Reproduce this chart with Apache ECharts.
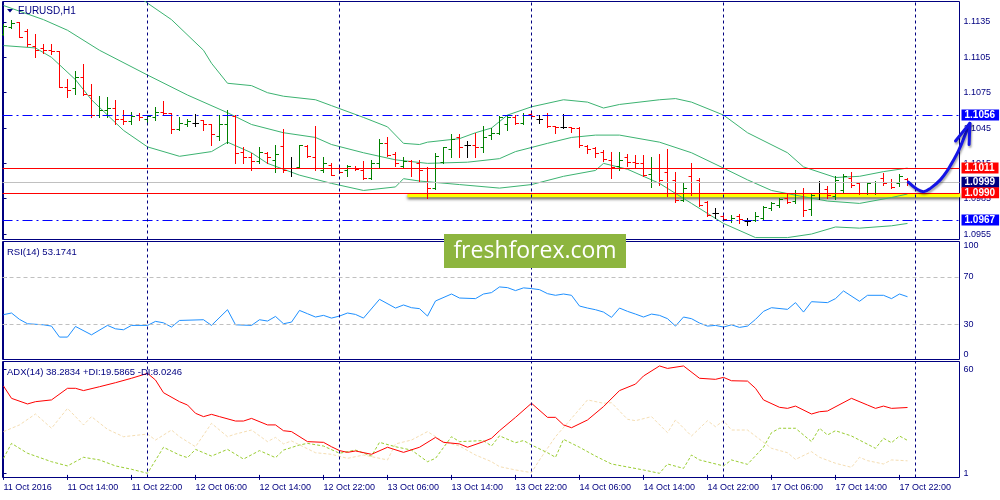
<!DOCTYPE html>
<html>
<head>
<meta charset="utf-8">
<script src="https://cdn.jsdelivr.net/npm/echarts@6/dist/echarts.min.js"></script>
<style>
  html, body { margin: 0; padding: 0; background: #fff; }
  #chart { width: 1000px; height: 500px; }
</style>
</head>
<body>
<div id="chart"></div>
<script>
// EURUSD H1 bars, 11 Oct 06:00 .. 17 Oct 23:00 (one entry per hour)
const barOpen = [1.1125,1.1131,1.1135,1.1127,1.1115,1.1113,1.1111,1.1110,1.1080,1.1079,1.1088,1.1073,1.1056,1.1060,1.1062,1.1053,1.1051,1.1056,1.1053,1.1054,
  1.1059,1.1058,1.1044,1.1048,1.1049,1.1052,1.1048,1.1038,1.1048,1.1055,1.1025,1.1020,1.1017,1.1024,1.1018,1.1030,1.1011,1.1012,1.1030,1.1020,
  1.1009,1.1014,1.1011,1.1009,1.1011,1.1009,1.1003,1.1015,1.1032,1.1023,1.1013,1.1017,1.1015,1.1011,1.0994,1.1016,1.1027,1.1037,1.1031,1.1031,
  1.1029,1.1039,1.1041,1.1048,1.1054,1.1049,1.1057,1.1053,1.1056,1.1047,1.1046,1.1046,1.1045,1.1030,1.1028,1.1025,1.1018,1.1013,1.1020,1.1016,
  1.1015,1.1006,1.1011,1.1008,1.1001,1.0984,1.1004,1.1001,1.0982,1.0973,1.0970,1.0967,1.0970,1.0966,1.0967,1.0969,1.0977,1.0980,1.0986,1.0983,
  1.0990,1.0976,1.0990,1.0993,1.0987,1.0992,1.1003,1.0998,1.0990,1.0990,1.1003,1.0999,1.0998,1.1002];
const barHigh = [1.1133,1.1137,1.1135,1.1129,1.1125,1.1116,1.1116,1.1110,1.1087,1.1093,1.1099,1.1082,1.1072,1.1071,1.1069,1.1060,1.1059,1.1058,1.1056,1.1063,
  1.1068,1.1058,1.1054,1.1053,1.1057,1.1052,1.1048,1.1056,1.1060,1.1056,1.1029,1.1024,1.1029,1.1025,1.1031,1.1044,1.1020,1.1031,1.1031,1.1047,
  1.1020,1.1015,1.1014,1.1014,1.1013,1.1017,1.1018,1.1036,1.1037,1.1025,1.1020,1.1018,1.1018,1.1012,1.1024,1.1029,1.1040,1.1040,1.1034,1.1041,
  1.1047,1.1045,1.1055,1.1056,1.1056,1.1058,1.1058,1.1056,1.1058,1.1047,1.1057,1.1046,1.1046,1.1031,1.1029,1.1026,1.1025,1.1025,1.1023,1.1022,
  1.1022,1.1020,1.1023,1.1027,1.1008,1.0999,1.1015,1.1003,1.0983,1.0977,1.0971,1.0971,1.0972,1.0969,1.0974,1.0979,1.0982,1.0986,1.0990,1.0992,
  1.0994,1.0990,1.1000,1.0996,1.1004,1.1006,1.1008,1.0999,1.0999,1.1000,1.1007,1.1002,1.1006,1.1003];
const barLow = [1.1124,1.1130,1.1122,1.1115,1.1105,1.1109,1.1108,1.1080,1.1071,1.1074,1.1073,1.1054,1.1054,1.1054,1.1048,1.1048,1.1048,1.1052,1.1048,1.1052,
  1.1056,1.1041,1.1043,1.1047,1.1047,1.1043,1.1031,1.1035,1.1032,1.1015,1.1015,1.1009,1.1015,1.1015,1.1008,1.1008,1.1004,1.1011,1.1020,1.1009,
  1.1008,1.1005,1.1007,1.1004,1.1009,1.1002,1.1002,1.1012,1.1021,1.1013,1.1012,1.1004,1.0999,1.0986,1.0993,1.1015,1.1020,1.1020,1.1020,1.1020,
  1.1025,1.1036,1.1040,1.1043,1.1048,1.1048,1.1054,1.1049,1.1046,1.1041,1.1045,1.1042,1.1029,1.1024,1.1020,1.1017,1.1003,1.1009,1.1013,1.1011,
  1.1004,1.0995,1.0997,1.0987,1.0982,1.0983,1.0988,1.0979,1.0970,1.0969,1.0967,1.0965,1.0964,1.0963,1.0966,1.0968,1.0975,1.0978,1.0981,1.0981,
  1.0970,1.0971,1.0985,1.0986,1.0985,1.0990,1.0995,1.0989,1.0989,1.0989,1.0997,1.0994,1.0996,1.0997];
const barClose = [1.1132,1.1134,1.1122,1.1116,1.1111,1.1111,1.1110,1.1080,1.1077,1.1088,1.1074,1.1056,1.1060,1.1062,1.1053,1.1051,1.1055,1.1054,1.1055,1.1059,
  1.1058,1.1044,1.1049,1.1051,1.1049,1.1048,1.1040,1.1048,1.1056,1.1024,1.1020,1.1017,1.1025,1.1020,1.1023,1.1009,1.1011,1.1031,1.1021,1.1011,
  1.1015,1.1005,1.1008,1.1013,1.1010,1.1003,1.1015,1.1032,1.1022,1.1015,1.1017,1.1011,1.1009,1.0994,1.1021,1.1029,1.1036,1.1029,1.1031,1.1029,
  1.1037,1.1041,1.1054,1.1054,1.1049,1.1056,1.1055,1.1053,1.1047,1.1046,1.1046,1.1045,1.1031,1.1027,1.1024,1.1019,1.1012,1.1018,1.1016,1.1015,
  1.1005,1.1011,1.1001,1.0990,1.0984,1.0994,1.0990,1.0980,1.0971,1.0973,1.0968,1.0969,1.0968,1.0966,1.0970,1.0978,1.0981,1.0985,1.0982,1.0990,
  1.0975,1.0988,1.0990,1.0988,1.1001,1.1004,1.0997,1.0990,1.0998,1.0999,1.0998,1.0995,1.1004,1.0999];

// Bollinger bands as [bar index, price]
const upperBand = [[16,1.1161],[18,1.1151],[21,1.1137],[25,1.1111],[26,1.1100],[28,1.1083],[31,1.1081],[33,1.1075],[35,1.1072],[39,1.1069],
  [41,1.1064],[45,1.1054],[48,1.1046],[50,1.1032],[52,1.1031],[53,1.1033],[57,1.1036],[59,1.1041],[61,1.1045],[63,1.1056],[66,1.1063],
  [70,1.1069],[73,1.1067],[75,1.1062],[77,1.1065],[82,1.1069],[84,1.1070],[86,1.1067],[90,1.1056],[93,1.1041],[98,1.1024],[100,1.1012],
  [104,1.1003],[107,1.1004],[110,1.1008],[113,1.1011]];
const middleBand = [[0,1.1149],[5,1.1137],[8,1.1128],[12,1.1111],[18,1.1090],[23,1.1073],[28,1.1058],[31,1.1048],[35,1.1041],[39,1.1037],
  [41,1.1031],[45,1.1024],[49,1.1018],[53,1.1015],[58,1.1016],[62,1.1019],[64,1.1025],[68,1.1032],[71,1.1037],[74,1.1039],[77,1.1039],
  [82,1.1033],[86,1.1024],[90,1.1011],[93,1.1001],[96,1.0992],[99,1.0988],[103,1.0983],[107,1.0981],[111,1.0986],[113,1.0989]];
const lowerBand = [[0,1.1115],[4,1.1113],[6,1.1105],[9,1.1086],[11,1.1069],[15,1.1043],[18,1.1029],[22,1.1021],[26,1.1025],[28,1.1033],
  [31,1.1024],[33,1.1015],[37,1.1005],[41,1.0998],[45,1.0992],[49,1.0995],[50,1.1002],[52,1.1000],[57,1.0997],[62,1.0994],[66,1.0997],
  [70,1.1004],[74,1.1009],[75,1.1015],[78,1.1010],[82,1.0998],[86,1.0981],[90,1.0964],[94,1.0952],[98,1.0952],[101,1.0955],[104,1.0961],
  [107,1.0960],[111,1.0962],[113,1.0964]];

// RSI(14)
const rsiValues = [[0,38.0],[1,39.4],[2,34.0],[3,30.3],[5,29.4],[6,28.3],[7,19.0],[8,19.0],[9,28.0],[11,20.9],[13,28.9],[14,26.0],[15,25.2],
  [16,28.9],[18,28.9],[19,32.3],[20,31.1],[21,27.5],[22,33.1],[25,33.7],[26,28.9],[28,42.2],[29,29.4],[31,28.9],[32,33.7],[33,32.6],[34,36.5],
  [35,30.3],[36,31.7],[37,41.6],[38,38.8],[39,36.0],[40,37.4],[41,35.1],[42,36.8],[43,39.4],[44,38.2],[45,35.1],[47,51.0],[49,43.6],[50,46.2],
  [51,43.9],[52,43.1],[53,36.8],[54,49.6],[56,55.5],[57,52.1],[59,51.6],[60,55.5],[61,56.7],[62,61.5],[63,60.9],[64,58.4],[65,60.7],[66,60.1],
  [67,59.2],[68,55.8],[69,54.4],[70,55.5],[71,54.4],[72,45.3],[73,43.6],[74,42.2],[75,40.2],[76,35.7],[77,43.6],[78,40.8],[79,38.5],[80,36.0],
  [81,38.5],[82,37.4],[83,34.6],[84,28.3],[85,36.0],[86,34.6],[87,30.9],[88,28.3],[89,28.9],[90,27.5],[91,29.4],[92,27.2],[93,28.3],[94,34.0],
  [95,40.8],[96,43.9],[98,42.5],[99,48.2],[100,40.2],[101,49.0],[103,48.2],[104,51.6],[105,58.1],[107,49.3],[108,54.4],[110,54.4],[111,51.6],
  [112,55.5],[113,53.2]];

// ADX(14) with +DI / -DI
const adxValues = [[0,50.5],[1,43.5],[3,40.3],[4,41.6],[6,42.6],[8,49.2],[9,49.2],[10,47.9],[12,50.1],[14,52.4],[16,54.9],[18,57.7],[19,53.9],
  [20,46.7],[22,41.6],[23,39.7],[24,35.0],[25,33.1],[26,34.4],[27,33.1],[29,30.6],[30,30.6],[31,32.1],[33,28.4],[34,28.4],[35,25.1],[36,24.6],
  [38,18.9],[40,18.5],[41,16.0],[42,13.8],[43,12.8],[44,13.6],[46,11.7],[48,15.7],[50,12.8],[52,15.7],[54,21.3],[55,18.5],[57,17.6],[58,15.7],
  [60,18.9],[61,20.8],[62,25.1],[64,32.7],[66,40.7],[68,32.7],[69,32.7],[70,28.4],[71,26.8],[73,31.2],[75,38.8],[77,47.9],[79,51.6],[80,56.2],
  [82,61.9],[83,60.5],[85,61.9],[87,54.9],[89,54.3],[90,55.4],[91,53.5],[93,53.3],[94,49.2],[95,42.6],[97,38.4],[98,37.8],[99,39.1],[101,34.6],
  [102,35.9],[103,36.3],[106,43.5],[108,39.7],[109,37.8],[110,39.1],[111,37.8],[113,38.3]];
const plusDI = [[0,9.4],[1,17.9],[3,12.3],[6,7.5],[8,5.1],[10,10.0],[12,8.5],[14,5.1],[16,3.2],[18,0.9],[20,15.7],[22,11.3],[23,9.8],[24,14.5],
  [26,10.7],[28,14.5],[30,9.0],[32,13.8],[34,9.8],[35,14.1],[37,17.0],[38,17.9],[40,16.4],[42,12.3],[44,14.1],[46,10.7],[47,18.5],[49,16.0],
  [51,14.1],[53,7.5],[54,9.4],[56,21.7],[57,18.9],[60,19.5],[61,16.4],[62,22.2],[64,18.3],[65,19.5],[66,17.0],[68,12.6],[69,10.0],[70,20.2],
  [72,15.7],[74,10.7],[76,6.2],[80,2.8],[82,0.9],[83,6.2],[85,3.7],[86,11.3],[87,8.5],[90,5.1],[91,8.5],[93,6.0],[95,15.7],[96,24.0],[97,26.5],
  [99,26.5],[101,18.9],[102,26.5],[103,22.7],[104,25.1],[106,22.1],[109,15.1],[110,20.8],[111,18.3],[112,22.1],[113,19.6]];
const minusDI = [[0,24.6],[2,28.4],[4,34.6],[6,26.5],[8,37.8],[10,28.4],[11,33.1],[13,25.9],[15,21.7],[18,23.2],[19,19.8],[21,25.5],[22,21.7],
  [24,16.0],[26,29.3],[28,21.7],[29,23.2],[31,25.5],[33,18.9],[34,21.3],[35,17.6],[36,19.3],[39,12.6],[41,11.7],[43,9.4],[45,11.3],[48,8.5],
  [49,17.6],[51,19.8],[53,24.6],[55,18.9],[57,16.4],[59,11.3],[61,7.5],[62,4.7],[64,2.8],[66,1.3],[67,8.5],[69,21.7],[71,32.1],[73,42.6],
  [75,40.7],[76,41.0],[78,31.6],[79,30.8],[81,33.1],[83,24.0],[84,31.2],[86,22.1],[88,30.8],[89,27.4],[90,30.8],[91,25.5],[93,25.5],[96,15.1],
  [98,12.6],[99,8.8],[101,13.2],[102,10.0],[104,6.6],[106,4.3],[107,10.0],[108,8.1],[110,6.2],[111,8.5],[113,8.0]];

// time axis labels every 8 bars, day separators
const timeLabelIdx = [0,8,16,24,32,40,48,56,64,72,80,88,96,104,112];
const timeLabels = ['11 Oct 2016','11 Oct 14:00','11 Oct 22:00','12 Oct 06:00','12 Oct 14:00','12 Oct 22:00','13 Oct 06:00',
  '13 Oct 14:00','13 Oct 22:00','14 Oct 06:00','14 Oct 14:00','14 Oct 22:00','17 Oct 06:00','17 Oct 14:00','17 Oct 22:00'];
const dayBreaks = [18, 42, 66, 90, 114];

// price scale ticks and drawn levels
const priceTicks = [1.0955, 1.0985, 1.1015, 1.1045, 1.1075, 1.1105, 1.1135];
const levelPrices = [1.1056, 1.1011, 1.0999, 1.0990, 1.0967];
const levelColors = ['#0000ff', '#ff0000', '#c0c0c0', '#ff0000', '#0000ff'];
const levelLabelBg = ['#0000ff', '#ff0000', '#000080', '#ff0000', '#0000ff'];
const supportLine = [[50.5, 1.0988], [119.6, 1.0988]];
const arrowPath = [[113.1,1.0999],[114.2,1.0993],[115.0,1.0991],[115.9,1.0994],[117.1,1.1001],[118.0,1.1009],
  [118.6,1.1016],[119.4,1.1026],[120.25,1.1040],[120.8,1.1049]];
const arrowHead = [[119.0,1.1034],[120.8,1.1049],[120.7,1.1031]];
const rsiTicks = [0, 30, 70, 100];
const adxTicks = [1, 60];

const NAVY = '#000080';
const FONT = '"Liberation Sans", Arial, sans-serif';
const X_MIN = -0.125, X_MAX = 119.5;        // 8 px per bar over the 957 px panel
const PRICE_MIN = 1.095037, PRICE_MAX = 1.115241;

const chart = echarts.init(document.getElementById('chart'));

function xAxisFor(gridIndex, showLabels, max) {
  return {
    type: 'value', gridIndex: gridIndex, min: X_MIN, max: max || X_MAX,
    axisLine: { show: false },
    splitLine: { show: false },
    axisTick: showLabels
      ? { show: true, customValues: timeLabelIdx, length: 5, lineStyle: { color: NAVY } }
      : { show: false },
    axisLabel: showLabels
      ? { show: true, customValues: timeLabelIdx, formatter: v => timeLabels[timeLabelIdx.indexOf(v)],
          align: 'left', color: NAVY, fontSize: 9, fontFamily: FONT, margin: 6 }
      : { show: false }
  };
}

function yAxisFor(gridIndex, min, max, ticks, fmt, extraLabel) {
  return {
    type: 'value', gridIndex: gridIndex, position: 'right', min: min, max: max,
    axisLine: { show: true, lineStyle: { color: NAVY } },
    splitLine: { show: false },
    axisTick: { show: true, customValues: ticks, length: 3, lineStyle: { color: NAVY } },
    axisLabel: Object.assign({ customValues: ticks, formatter: fmt, color: NAVY, fontSize: 9, fontFamily: FONT, margin: 4 }, extraLabel || {})
  };
}

function dayLineData() {
  return dayBreaks.map(i => ({ xAxis: i }));
}
const dayLineStyle = { color: NAVY, type: [3, 3], width: 1 };

function renderBar(params, api) {
  const i = api.value(0);
  const o = api.value(1), h = api.value(2), l = api.value(3), c = api.value(4);
  const pH = api.coord([i, h]);
  const pL = api.coord([i, l]);
  const pO = api.coord([i, o]);
  const pC = api.coord([i, c]);
  const x = Math.floor(pH[0]) + 0.5;
  const color = c > o ? '#008000' : (c < o ? '#ff0000' : '#000000');
  const style = { stroke: color, lineWidth: 1 };
  const yo = Math.round(pO[1]) + 0.5;
  const yc = Math.round(pC[1]) + 0.5;
  return {
    type: 'group',
    children: [
      { type: 'line', shape: { x1: x, y1: Math.round(pH[1]), x2: x, y2: Math.round(pL[1]) + 1 }, style: style },
      { type: 'line', shape: { x1: x - 3, y1: yo, x2: x, y2: yo }, style: style },
      { type: 'line', shape: { x1: x, y1: yc, x2: x + 3.5, y2: yc }, style: style }
    ]
  };
}

const levelMarks = levelPrices.map((p, k) => ({
  yAxis: p,
  lineStyle: {
    color: levelColors[k], width: 1,
    type: levelColors[k] === '#0000ff' ? [10, 4, 2, 4] : 'solid'
  },
  label: { backgroundColor: levelLabelBg[k] }
}));

const bandStyle = { color: '#3cb371', width: 1 };
const arrowStyle = { color: '#1414e6', width: 3, cap: 'round', join: 'round',
  shadowColor: 'rgba(0,0,0,0.35)', shadowBlur: 2, shadowOffsetX: 1, shadowOffsetY: 2 };

const option = {
  animation: false,
  backgroundColor: '#ffffff',
  grid: [
    { left: 2.5, top: 1.5, width: 957, height: 238, show: true, borderColor: NAVY, borderWidth: 1, outerBoundsMode: 'none' },
    { left: 2.5, top: 241.5, width: 957, height: 118, show: true, borderColor: NAVY, borderWidth: 1, outerBoundsMode: 'none' },
    { left: 2.5, top: 361.5, width: 957, height: 116, show: true, borderColor: NAVY, borderWidth: 1, outerBoundsMode: 'none' },
    // overlay with the same scale, reaching over the price labels for the hand-drawn arrow
    { left: 2.5, top: 1.5, width: 997, height: 238, show: false, outerBoundsMode: 'none' }
  ],
  xAxis: [xAxisFor(0, false), xAxisFor(1, false), xAxisFor(2, true), xAxisFor(3, false, X_MIN + 997 / 8)],
  yAxis: [
    yAxisFor(0, PRICE_MIN, PRICE_MAX, priceTicks, v => v.toFixed(4)),
    yAxisFor(1, 0, 100, rsiTicks, v => String(v), { verticalAlignMaxLabel: 'top', verticalAlignMinLabel: 'bottom' }),
    yAxisFor(2, -1.48, 64.43, adxTicks, v => String(v)),
    { type: 'value', gridIndex: 3, min: PRICE_MIN, max: PRICE_MAX, show: false }
  ],
  series: [
    {
      name: 'support', type: 'line', xAxisIndex: 0, yAxisIndex: 0, z: 1,
      data: supportLine, symbol: 'none',
      lineStyle: { color: '#ffff00', width: 4, shadowColor: 'rgba(0,0,0,0.6)', shadowBlur: 3, shadowOffsetY: 2 }
    },
    { name: 'BB upper', type: 'line', xAxisIndex: 0, yAxisIndex: 0, z: 2, data: upperBand, symbol: 'none', lineStyle: bandStyle },
    {
      name: 'BB middle', type: 'line', xAxisIndex: 0, yAxisIndex: 0, z: 2, data: middleBand, symbol: 'none', lineStyle: bandStyle,
      markLine: {
        silent: true, symbol: ['none', 'none'], animation: false, precision: 5,
        label: {
          show: true, position: 'end', distance: 2, color: '#ffffff', fontSize: 10, fontWeight: 'bold', fontFamily: FONT,
          padding: [1, 4, 1, 3], lineHeight: 9,
          formatter: p => Number(p.value).toFixed(4)
        },
        data: levelMarks
      }
    },
    { name: 'BB lower', type: 'line', xAxisIndex: 0, yAxisIndex: 0, z: 2, data: lowerBand, symbol: 'none', lineStyle: bandStyle },
    {
      name: 'EURUSD', type: 'custom', xAxisIndex: 0, yAxisIndex: 0, z: 3, clip: true,
      renderItem: renderBar,
      encode: { x: 0, y: [1, 2, 3, 4] },
      data: barOpen.map((o, i) => [i, o, barHigh[i], barLow[i], barClose[i]]),
      markLine: { silent: true, symbol: ['none', 'none'], label: { show: false }, lineStyle: dayLineStyle, data: dayLineData() }
    },
    { name: 'arrow', type: 'line', xAxisIndex: 3, yAxisIndex: 3, z: 6, smooth: 0.4, data: arrowPath, symbol: 'none', lineStyle: arrowStyle },
    { name: 'arrow head', type: 'line', xAxisIndex: 3, yAxisIndex: 3, z: 6, data: arrowHead, symbol: 'none', lineStyle: arrowStyle },
    {
      name: 'RSI', type: 'line', xAxisIndex: 1, yAxisIndex: 1, data: rsiValues, symbol: 'none',
      lineStyle: { color: '#1e90ff', width: 1 },
      markLine: {
        silent: true, symbol: ['none', 'none'], label: { show: false }, lineStyle: dayLineStyle,
        data: dayLineData().concat([
          { yAxis: 30, lineStyle: { color: '#c0c0c0', type: [4, 3], width: 1 } },
          { yAxis: 70, lineStyle: { color: '#c0c0c0', type: [4, 3], width: 1 } }
        ])
      }
    },
    { name: '-DI', type: 'line', xAxisIndex: 2, yAxisIndex: 2, data: minusDI, symbol: 'none', lineStyle: { color: '#f5deb3', width: 1, type: [3, 2] } },
    { name: '+DI', type: 'line', xAxisIndex: 2, yAxisIndex: 2, data: plusDI, symbol: 'none', lineStyle: { color: '#9acd32', width: 1, type: [3, 2] } },
    {
      name: 'ADX', type: 'line', xAxisIndex: 2, yAxisIndex: 2, data: adxValues, symbol: 'none',
      lineStyle: { color: '#ff0000', width: 1 },
      markLine: { silent: true, symbol: ['none', 'none'], label: { show: false }, lineStyle: dayLineStyle, data: dayLineData() }
    }
  ],
  graphic: [
    { type: 'polygon', shape: { points: [[7, 9], [13, 9], [10, 12.5]] }, style: { fill: NAVY }, z: 50 },
    { type: 'text', x: 18, y: 11, style: { text: 'EURUSD,H1', fill: NAVY, font: '10px ' + FONT, verticalAlign: 'middle' }, z: 50 },
    { type: 'text', x: 7, y: 252, style: { text: 'RSI(14) 53.1741', fill: NAVY, font: '9.5px ' + FONT, verticalAlign: 'middle' }, z: 50 },
    { type: 'text', x: 7, y: 372, style: { text: 'ADX(14) 38.2834 +DI:19.5865 -DI:8.0246', fill: NAVY, font: '9.5px ' + FONT, verticalAlign: 'middle' }, z: 50 },
    { type: 'rect', shape: { x: 444, y: 234, width: 182, height: 34 }, style: { fill: '#8db53f' }, z: 100 },
    { type: 'text', x: 535, y: 251, style: { text: 'freshforex.com', fill: '#ffffff', font: '23px "Open Sans", sans-serif', align: 'center', verticalAlign: 'middle' }, z: 101 }
  ]
};

chart.setOption(option);
</script>
</body>
</html>
